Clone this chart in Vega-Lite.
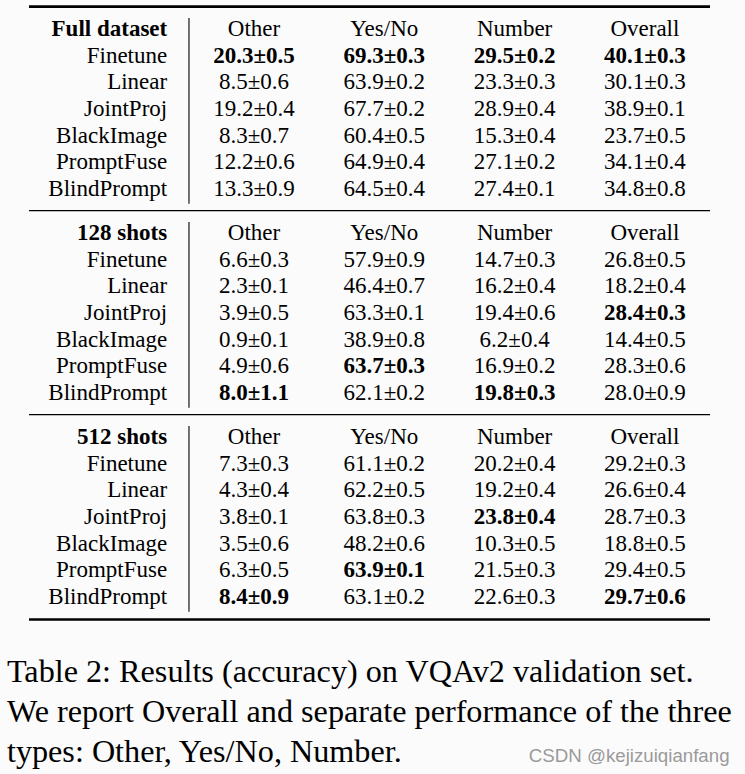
{
"$schema": "https://vega.github.io/schema/vega-lite/v6.json",
"background": "#fbfbfb",
"padding": {"top": 2, "left": 0, "right": 0, "bottom": 0},
"spacing": 0,
"config": {"view": {"stroke": null}, "rule": {"color": "#000000"}},
"datasets": {
"cells": [
{"s":1,"r":0,"c":0,"t":"Full dataset","b":1},{"s":1,"r":0,"c":1,"t":"Other","b":0},{"s":1,"r":0,"c":2,"t":"Yes/No","b":0},{"s":1,"r":0,"c":3,"t":"Number","b":0},{"s":1,"r":0,"c":4,"t":"Overall","b":0},
{"s":1,"r":1,"c":0,"t":"Finetune","b":0},{"s":1,"r":1,"c":1,"t":"20.3±0.5","b":1},{"s":1,"r":1,"c":2,"t":"69.3±0.3","b":1},{"s":1,"r":1,"c":3,"t":"29.5±0.2","b":1},{"s":1,"r":1,"c":4,"t":"40.1±0.3","b":1},
{"s":1,"r":2,"c":0,"t":"Linear","b":0},{"s":1,"r":2,"c":1,"t":"8.5±0.6","b":0},{"s":1,"r":2,"c":2,"t":"63.9±0.2","b":0},{"s":1,"r":2,"c":3,"t":"23.3±0.3","b":0},{"s":1,"r":2,"c":4,"t":"30.1±0.3","b":0},
{"s":1,"r":3,"c":0,"t":"JointProj","b":0},{"s":1,"r":3,"c":1,"t":"19.2±0.4","b":0},{"s":1,"r":3,"c":2,"t":"67.7±0.2","b":0},{"s":1,"r":3,"c":3,"t":"28.9±0.4","b":0},{"s":1,"r":3,"c":4,"t":"38.9±0.1","b":0},
{"s":1,"r":4,"c":0,"t":"BlackImage","b":0},{"s":1,"r":4,"c":1,"t":"8.3±0.7","b":0},{"s":1,"r":4,"c":2,"t":"60.4±0.5","b":0},{"s":1,"r":4,"c":3,"t":"15.3±0.4","b":0},{"s":1,"r":4,"c":4,"t":"23.7±0.5","b":0},
{"s":1,"r":5,"c":0,"t":"PromptFuse","b":0},{"s":1,"r":5,"c":1,"t":"12.2±0.6","b":0},{"s":1,"r":5,"c":2,"t":"64.9±0.4","b":0},{"s":1,"r":5,"c":3,"t":"27.1±0.2","b":0},{"s":1,"r":5,"c":4,"t":"34.1±0.4","b":0},
{"s":1,"r":6,"c":0,"t":"BlindPrompt","b":0},{"s":1,"r":6,"c":1,"t":"13.3±0.9","b":0},{"s":1,"r":6,"c":2,"t":"64.5±0.4","b":0},{"s":1,"r":6,"c":3,"t":"27.4±0.1","b":0},{"s":1,"r":6,"c":4,"t":"34.8±0.8","b":0},
{"s":2,"r":0,"c":0,"t":"128 shots","b":1},{"s":2,"r":0,"c":1,"t":"Other","b":0},{"s":2,"r":0,"c":2,"t":"Yes/No","b":0},{"s":2,"r":0,"c":3,"t":"Number","b":0},{"s":2,"r":0,"c":4,"t":"Overall","b":0},
{"s":2,"r":1,"c":0,"t":"Finetune","b":0},{"s":2,"r":1,"c":1,"t":"6.6±0.3","b":0},{"s":2,"r":1,"c":2,"t":"57.9±0.9","b":0},{"s":2,"r":1,"c":3,"t":"14.7±0.3","b":0},{"s":2,"r":1,"c":4,"t":"26.8±0.5","b":0},
{"s":2,"r":2,"c":0,"t":"Linear","b":0},{"s":2,"r":2,"c":1,"t":"2.3±0.1","b":0},{"s":2,"r":2,"c":2,"t":"46.4±0.7","b":0},{"s":2,"r":2,"c":3,"t":"16.2±0.4","b":0},{"s":2,"r":2,"c":4,"t":"18.2±0.4","b":0},
{"s":2,"r":3,"c":0,"t":"JointProj","b":0},{"s":2,"r":3,"c":1,"t":"3.9±0.5","b":0},{"s":2,"r":3,"c":2,"t":"63.3±0.1","b":0},{"s":2,"r":3,"c":3,"t":"19.4±0.6","b":0},{"s":2,"r":3,"c":4,"t":"28.4±0.3","b":1},
{"s":2,"r":4,"c":0,"t":"BlackImage","b":0},{"s":2,"r":4,"c":1,"t":"0.9±0.1","b":0},{"s":2,"r":4,"c":2,"t":"38.9±0.8","b":0},{"s":2,"r":4,"c":3,"t":"6.2±0.4","b":0},{"s":2,"r":4,"c":4,"t":"14.4±0.5","b":0},
{"s":2,"r":5,"c":0,"t":"PromptFuse","b":0},{"s":2,"r":5,"c":1,"t":"4.9±0.6","b":0},{"s":2,"r":5,"c":2,"t":"63.7±0.3","b":1},{"s":2,"r":5,"c":3,"t":"16.9±0.2","b":0},{"s":2,"r":5,"c":4,"t":"28.3±0.6","b":0},
{"s":2,"r":6,"c":0,"t":"BlindPrompt","b":0},{"s":2,"r":6,"c":1,"t":"8.0±1.1","b":1},{"s":2,"r":6,"c":2,"t":"62.1±0.2","b":0},{"s":2,"r":6,"c":3,"t":"19.8±0.3","b":1},{"s":2,"r":6,"c":4,"t":"28.0±0.9","b":0},
{"s":3,"r":0,"c":0,"t":"512 shots","b":1},{"s":3,"r":0,"c":1,"t":"Other","b":0},{"s":3,"r":0,"c":2,"t":"Yes/No","b":0},{"s":3,"r":0,"c":3,"t":"Number","b":0},{"s":3,"r":0,"c":4,"t":"Overall","b":0},
{"s":3,"r":1,"c":0,"t":"Finetune","b":0},{"s":3,"r":1,"c":1,"t":"7.3±0.3","b":0},{"s":3,"r":1,"c":2,"t":"61.1±0.2","b":0},{"s":3,"r":1,"c":3,"t":"20.2±0.4","b":0},{"s":3,"r":1,"c":4,"t":"29.2±0.3","b":0},
{"s":3,"r":2,"c":0,"t":"Linear","b":0},{"s":3,"r":2,"c":1,"t":"4.3±0.4","b":0},{"s":3,"r":2,"c":2,"t":"62.2±0.5","b":0},{"s":3,"r":2,"c":3,"t":"19.2±0.4","b":0},{"s":3,"r":2,"c":4,"t":"26.6±0.4","b":0},
{"s":3,"r":3,"c":0,"t":"JointProj","b":0},{"s":3,"r":3,"c":1,"t":"3.8±0.1","b":0},{"s":3,"r":3,"c":2,"t":"63.8±0.3","b":0},{"s":3,"r":3,"c":3,"t":"23.8±0.4","b":1},{"s":3,"r":3,"c":4,"t":"28.7±0.3","b":0},
{"s":3,"r":4,"c":0,"t":"BlackImage","b":0},{"s":3,"r":4,"c":1,"t":"3.5±0.6","b":0},{"s":3,"r":4,"c":2,"t":"48.2±0.6","b":0},{"s":3,"r":4,"c":3,"t":"10.3±0.5","b":0},{"s":3,"r":4,"c":4,"t":"18.8±0.5","b":0},
{"s":3,"r":5,"c":0,"t":"PromptFuse","b":0},{"s":3,"r":5,"c":1,"t":"6.3±0.5","b":0},{"s":3,"r":5,"c":2,"t":"63.9±0.1","b":1},{"s":3,"r":5,"c":3,"t":"21.5±0.3","b":0},{"s":3,"r":5,"c":4,"t":"29.4±0.5","b":0},
{"s":3,"r":6,"c":0,"t":"BlindPrompt","b":0},{"s":3,"r":6,"c":1,"t":"8.4±0.9","b":1},{"s":3,"r":6,"c":2,"t":"63.1±0.2","b":0},{"s":3,"r":6,"c":3,"t":"22.6±0.3","b":0},{"s":3,"r":6,"c":4,"t":"29.7±0.6","b":1}
],
"caption": [
{"line":0,"t":"Table 2: Results (accuracy) on VQAv2 validation set."},
{"line":1,"t":"We report Overall and separate performance of the three"},
{"line":2,"t":"types: Other, Yes/No, Number."}
]
},
"vconcat": [
{
"width": 745, "height": 204,
"layer": [
{"data": {"name": "cells"}, "transform": [{"filter": "datum.s == 1 && datum.c > 0 && datum.b == 0"}],
 "mark": {"type": "text", "align": "center", "baseline": "alphabetic", "font": "Liberation Serif", "fontSize": 23, "fontWeight": "normal", "color": "#000000"},
 "encoding": {"x": {"field": "c", "type": "quantitative", "scale": {"domain": [-0.9493, 4.7682]}, "axis": null},
  "y": {"field": "r", "type": "quantitative", "scale": {"domain": [-1.273, 6.367], "reverse": true}, "axis": null},
  "text": {"field": "t"}}},
{"data": {"name": "cells"}, "transform": [{"filter": "datum.s == 1 && datum.c > 0 && datum.b == 1"}],
 "mark": {"type": "text", "align": "center", "baseline": "alphabetic", "font": "Liberation Serif", "fontSize": 23, "fontWeight": "bold", "color": "#000000"},
 "encoding": {"x": {"field": "c", "type": "quantitative", "scale": {"domain": [-0.9493, 4.7682]}, "axis": null},
  "y": {"field": "r", "type": "quantitative", "scale": {"domain": [-1.273, 6.367], "reverse": true}, "axis": null},
  "text": {"field": "t"}}},
{"data": {"name": "cells"}, "transform": [{"filter": "datum.s == 1 && datum.c == 0 && datum.b == 0"}],
 "mark": {"type": "text", "align": "right", "dx": 43.5, "baseline": "alphabetic", "font": "Liberation Serif", "fontSize": 23, "fontWeight": "normal", "color": "#000000"},
 "encoding": {"x": {"field": "c", "type": "quantitative", "scale": {"domain": [-0.9493, 4.7682]}, "axis": null},
  "y": {"field": "r", "type": "quantitative", "scale": {"domain": [-1.273, 6.367], "reverse": true}, "axis": null},
  "text": {"field": "t"}}},
{"data": {"name": "cells"}, "transform": [{"filter": "datum.s == 1 && datum.c == 0 && datum.b == 1"}],
 "mark": {"type": "text", "align": "right", "dx": 43.5, "baseline": "alphabetic", "font": "Liberation Serif", "fontSize": 23, "fontWeight": "bold", "color": "#000000"},
 "encoding": {"x": {"field": "c", "type": "quantitative", "scale": {"domain": [-0.9493, 4.7682]}, "axis": null},
  "y": {"field": "r", "type": "quantitative", "scale": {"domain": [-1.273, 6.367], "reverse": true}, "axis": null},
  "text": {"field": "t"}}},
{"data": {"values": [{}]}, "mark": {"type": "rule", "strokeWidth": 1.1},
 "encoding": {"x": {"datum": 0.501, "type": "quantitative", "scale": {"domain": [-0.9493, 4.7682]}, "axis": null},
  "y": {"datum": -0.674, "type": "quantitative", "scale": {"domain": [-1.273, 6.367], "reverse": true}, "axis": null}, "y2": {"datum": 6.281}}},
{"data": {"values": [{}]}, "mark": {"type": "rule", "strokeWidth": 2.6},
 "encoding": {"x": {"datum": -0.7268, "type": "quantitative", "scale": {"domain": [-0.9493, 4.7682]}, "axis": null}, "x2": {"datum": 4.4996},
  "y": {"datum": -1.1, "type": "quantitative", "scale": {"domain": [-1.273, 6.367], "reverse": true}, "axis": null}}}
]
},
{
"width": 745, "height": 204,
"layer": [
{"data": {"name": "cells"}, "transform": [{"filter": "datum.s == 2 && datum.c > 0 && datum.b == 0"}],
 "mark": {"type": "text", "align": "center", "baseline": "alphabetic", "font": "Liberation Serif", "fontSize": 23, "fontWeight": "normal", "color": "#000000"},
 "encoding": {"x": {"field": "c", "type": "quantitative", "scale": {"domain": [-0.9493, 4.7682]}, "axis": null},
  "y": {"field": "r", "type": "quantitative", "scale": {"domain": [-1.273, 6.367], "reverse": true}, "axis": null},
  "text": {"field": "t"}}},
{"data": {"name": "cells"}, "transform": [{"filter": "datum.s == 2 && datum.c > 0 && datum.b == 1"}],
 "mark": {"type": "text", "align": "center", "baseline": "alphabetic", "font": "Liberation Serif", "fontSize": 23, "fontWeight": "bold", "color": "#000000"},
 "encoding": {"x": {"field": "c", "type": "quantitative", "scale": {"domain": [-0.9493, 4.7682]}, "axis": null},
  "y": {"field": "r", "type": "quantitative", "scale": {"domain": [-1.273, 6.367], "reverse": true}, "axis": null},
  "text": {"field": "t"}}},
{"data": {"name": "cells"}, "transform": [{"filter": "datum.s == 2 && datum.c == 0 && datum.b == 0"}],
 "mark": {"type": "text", "align": "right", "dx": 43.5, "baseline": "alphabetic", "font": "Liberation Serif", "fontSize": 23, "fontWeight": "normal", "color": "#000000"},
 "encoding": {"x": {"field": "c", "type": "quantitative", "scale": {"domain": [-0.9493, 4.7682]}, "axis": null},
  "y": {"field": "r", "type": "quantitative", "scale": {"domain": [-1.273, 6.367], "reverse": true}, "axis": null},
  "text": {"field": "t"}}},
{"data": {"name": "cells"}, "transform": [{"filter": "datum.s == 2 && datum.c == 0 && datum.b == 1"}],
 "mark": {"type": "text", "align": "right", "dx": 43.5, "baseline": "alphabetic", "font": "Liberation Serif", "fontSize": 23, "fontWeight": "bold", "color": "#000000"},
 "encoding": {"x": {"field": "c", "type": "quantitative", "scale": {"domain": [-0.9493, 4.7682]}, "axis": null},
  "y": {"field": "r", "type": "quantitative", "scale": {"domain": [-1.273, 6.367], "reverse": true}, "axis": null},
  "text": {"field": "t"}}},
{"data": {"values": [{}]}, "mark": {"type": "rule", "strokeWidth": 1.1},
 "encoding": {"x": {"datum": 0.501, "type": "quantitative", "scale": {"domain": [-0.9493, 4.7682]}, "axis": null},
  "y": {"datum": -0.674, "type": "quantitative", "scale": {"domain": [-1.273, 6.367], "reverse": true}, "axis": null}, "y2": {"datum": 6.281}}},
{"data": {"values": [{}]}, "mark": {"type": "rule", "strokeWidth": 1.3},
 "encoding": {"x": {"datum": -0.7268, "type": "quantitative", "scale": {"domain": [-0.9493, 4.7682]}, "axis": null}, "x2": {"datum": 4.4996},
  "y": {"datum": -1.1, "type": "quantitative", "scale": {"domain": [-1.273, 6.367], "reverse": true}, "axis": null}}}
]
},
{
"width": 745, "height": 212,
"layer": [
{"data": {"name": "cells"}, "transform": [{"filter": "datum.s == 3 && datum.c > 0 && datum.b == 0"}],
 "mark": {"type": "text", "align": "center", "baseline": "alphabetic", "font": "Liberation Serif", "fontSize": 23, "fontWeight": "normal", "color": "#000000"},
 "encoding": {"x": {"field": "c", "type": "quantitative", "scale": {"domain": [-0.9493, 4.7682]}, "axis": null},
  "y": {"field": "r", "type": "quantitative", "scale": {"domain": [-1.273, 6.667], "reverse": true}, "axis": null},
  "text": {"field": "t"}}},
{"data": {"name": "cells"}, "transform": [{"filter": "datum.s == 3 && datum.c > 0 && datum.b == 1"}],
 "mark": {"type": "text", "align": "center", "baseline": "alphabetic", "font": "Liberation Serif", "fontSize": 23, "fontWeight": "bold", "color": "#000000"},
 "encoding": {"x": {"field": "c", "type": "quantitative", "scale": {"domain": [-0.9493, 4.7682]}, "axis": null},
  "y": {"field": "r", "type": "quantitative", "scale": {"domain": [-1.273, 6.667], "reverse": true}, "axis": null},
  "text": {"field": "t"}}},
{"data": {"name": "cells"}, "transform": [{"filter": "datum.s == 3 && datum.c == 0 && datum.b == 0"}],
 "mark": {"type": "text", "align": "right", "dx": 43.5, "baseline": "alphabetic", "font": "Liberation Serif", "fontSize": 23, "fontWeight": "normal", "color": "#000000"},
 "encoding": {"x": {"field": "c", "type": "quantitative", "scale": {"domain": [-0.9493, 4.7682]}, "axis": null},
  "y": {"field": "r", "type": "quantitative", "scale": {"domain": [-1.273, 6.667], "reverse": true}, "axis": null},
  "text": {"field": "t"}}},
{"data": {"name": "cells"}, "transform": [{"filter": "datum.s == 3 && datum.c == 0 && datum.b == 1"}],
 "mark": {"type": "text", "align": "right", "dx": 43.5, "baseline": "alphabetic", "font": "Liberation Serif", "fontSize": 23, "fontWeight": "bold", "color": "#000000"},
 "encoding": {"x": {"field": "c", "type": "quantitative", "scale": {"domain": [-0.9493, 4.7682]}, "axis": null},
  "y": {"field": "r", "type": "quantitative", "scale": {"domain": [-1.273, 6.667], "reverse": true}, "axis": null},
  "text": {"field": "t"}}},
{"data": {"values": [{}]}, "mark": {"type": "rule", "strokeWidth": 1.1},
 "encoding": {"x": {"datum": 0.501, "type": "quantitative", "scale": {"domain": [-0.9493, 4.7682]}, "axis": null},
  "y": {"datum": -0.674, "type": "quantitative", "scale": {"domain": [-1.273, 6.667], "reverse": true}, "axis": null}, "y2": {"datum": 6.281}}},
{"data": {"values": [{}]}, "mark": {"type": "rule", "strokeWidth": 1.3},
 "encoding": {"x": {"datum": -0.7268, "type": "quantitative", "scale": {"domain": [-0.9493, 4.7682]}, "axis": null}, "x2": {"datum": 4.4996},
  "y": {"datum": -1.1, "type": "quantitative", "scale": {"domain": [-1.273, 6.667], "reverse": true}, "axis": null}}},
{"data": {"values": [{}]}, "mark": {"type": "rule", "strokeWidth": 2.6},
 "encoding": {"x": {"datum": -0.7268, "type": "quantitative", "scale": {"domain": [-0.9493, 4.7682]}, "axis": null}, "x2": {"datum": 4.4996},
  "y": {"datum": 6.576, "type": "quantitative", "scale": {"domain": [-1.273, 6.667], "reverse": true}, "axis": null}}}
]
},
{
"width": 745, "height": 152,
"layer": [
{"data": {"name": "caption"},
 "mark": {"type": "text", "align": "left", "baseline": "alphabetic", "font": "Liberation Serif", "fontSize": 32.2, "color": "#000000"},
 "encoding": {"x": {"datum": -0.896, "type": "quantitative", "scale": {"domain": [-0.9493, 4.7682]}, "axis": null},
  "y": {"field": "line", "type": "quantitative", "scale": {"domain": [-1.5, 2.3], "reverse": true}, "axis": null},
  "text": {"field": "t"}}},
{"data": {"values": [{"line": 2, "t": "CSDN @kejizuiqianfang"}]},
 "mark": {"type": "text", "align": "right", "baseline": "alphabetic", "font": "Liberation Sans", "fontSize": 18.7, "color": "#9a9a9a"},
 "encoding": {"x": {"datum": 4.6496, "type": "quantitative", "scale": {"domain": [-0.9493, 4.7682]}, "axis": null},
  "y": {"field": "line", "type": "quantitative", "scale": {"domain": [-1.5, 2.3], "reverse": true}, "axis": null},
  "text": {"field": "t"}}}
]
}
]
}
